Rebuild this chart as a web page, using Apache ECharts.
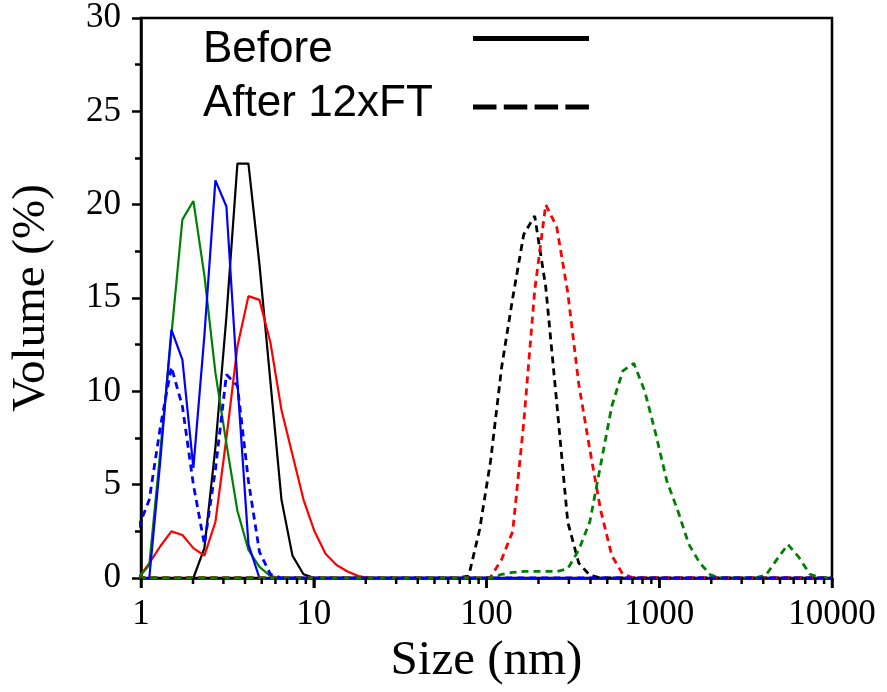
<!DOCTYPE html>
<html><head><meta charset="utf-8">
<script src="https://cdn.jsdelivr.net/npm/echarts@6/dist/echarts.min.js"></script>
<style>html,body{margin:0;padding:0;background:#fff}#c{width:887px;height:692px;background:#fff}</style>
</head><body><div id="c"></div>
<script>
// Size classes (nm)
const sizes = [0.9649, 1.117, 1.294, 1.499, 1.736, 2.010, 2.328, 2.696,
  3.122, 3.615, 4.187, 4.849, 5.615, 6.503, 7.531, 8.721,
  10.10, 11.70, 13.54, 15.69, 18.17, 21.04, 24.36, 28.21,
  32.67, 37.84, 43.82, 50.75, 58.77, 68.06, 78.82, 91.28,
  105.7, 122.4, 141.8, 164.2, 190.1, 220.2, 255.0, 295.3,
  342.0, 396.1, 458.7, 531.2, 615.1, 712.4, 825.0, 955.4,
  1106, 1281, 1484, 1718, 1990, 2305, 2669, 3091,
  3580, 4145, 4801, 5560, 6439, 7456, 8635, 10000];

// Before (solid)
const beforeBlack = [0, 0, 0, 0, 0, 0, 1.6, 7.0,
  14.0, 22.2, 22.2, 16.8, 10.5, 4.2, 1.2, 0.2,
  0, 0, 0, 0, 0, 0, 0, 0,
  0, 0, 0, 0, 0, 0, 0, 0,
  0, 0, 0, 0, 0, 0, 0, 0,
  0, 0, 0, 0, 0, 0, 0, 0,
  0, 0, 0, 0, 0, 0, 0, 0,
  0, 0, 0, 0, 0, 0, 0, 0];
const beforeRed = [0, 0.8, 1.7, 2.5, 2.3, 1.6, 1.2, 3.0,
  7.5, 12.4, 15.1, 14.9, 12.6, 9.0, 6.6, 4.2,
  2.5, 1.3, 0.7, 0.35, 0.1, 0, 0, 0,
  0, 0, 0, 0, 0, 0, 0, 0,
  0, 0, 0, 0, 0, 0, 0, 0,
  0, 0, 0, 0, 0, 0, 0, 0,
  0, 0, 0, 0, 0, 0, 0, 0,
  0, 0, 0, 0, 0, 0, 0, 0];
const beforeGreen = [0, 0.7, 6.8, 13.0, 19.2, 20.2, 16.2, 11.0,
  7.2, 3.6, 1.5, 0.6, 0.1, 0, 0, 0,
  0, 0, 0, 0, 0, 0, 0, 0,
  0, 0, 0, 0, 0, 0, 0, 0,
  0, 0, 0, 0, 0, 0, 0, 0,
  0, 0, 0, 0, 0, 0, 0, 0,
  0, 0, 0, 0, 0, 0, 0, 0,
  0, 0, 0, 0, 0, 0, 0, 0];
const beforeBlue = [0, 0, 6.3, 13.3, 11.7, 5.9, 13.0, 21.3,
  19.9, 10.5, 1.8, 0, 0, 0, 0, 0,
  0, 0, 0, 0, 0, 0, 0, 0,
  0, 0, 0, 0, 0, 0, 0, 0,
  0, 0, 0, 0, 0, 0, 0, 0,
  0, 0, 0, 0, 0, 0, 0, 0,
  0, 0, 0, 0, 0, 0, 0, 0,
  0, 0, 0, 0, 0, 0, 0, 0];

// After 12xFT (dashed)
const afterBlack = [0, 0, 0, 0, 0, 0, 0, 0,
  0, 0, 0, 0, 0, 0, 0, 0,
  0, 0, 0, 0, 0, 0, 0, 0,
  0, 0, 0, 0, 0, 0, 0.1, 2.6,
  6.3, 11.3, 15.0, 18.4, 19.4, 15.6, 9.4, 3.0,
  0.8, 0.15, 0, 0, 0, 0, 0, 0,
  0, 0, 0, 0, 0, 0, 0, 0,
  0, 0, 0, 0, 0, 0, 0, 0];
const afterRed = [0, 0, 0, 0, 0, 0, 0, 0,
  0, 0, 0, 0, 0, 0, 0, 0,
  0, 0, 0, 0, 0, 0, 0, 0,
  0, 0, 0, 0, 0, 0, 0, 0,
  0.05, 1.0, 2.5, 8.3, 15.4, 20.0, 18.8, 15.3,
  10.4, 6.9, 3.6, 1.2, 0.2, 0, 0, 0,
  0, 0, 0, 0, 0, 0, 0, 0,
  0, 0, 0, 0, 0, 0, 0, 0];
const afterGreen = [0, 0, 0, 0, 0, 0, 0, 0,
  0, 0, 0, 0, 0, 0, 0, 0,
  0, 0, 0, 0, 0, 0, 0, 0,
  0, 0, 0, 0, 0, 0, 0, 0,
  0, 0.2, 0.3, 0.35, 0.35, 0.35, 0.35, 0.5,
  1.5, 3.0, 6.1, 9.2, 11.1, 11.5, 10.0, 7.7,
  5.2, 3.6, 1.8, 0.8, 0.15, 0, 0, 0,
  0, 0.15, 1.0, 1.8, 1.1, 0.2, 0, 0];
const afterBlue = [2.7, 4.2, 8.1, 11.3, 9.2, 5.0, 1.8, 5.8,
  10.9, 10.3, 5.2, 1.4, 0.2, 0, 0, 0,
  0, 0, 0, 0, 0, 0, 0, 0,
  0, 0, 0, 0, 0, 0, 0, 0,
  0, 0, 0, 0, 0, 0, 0, 0,
  0, 0, 0, 0, 0, 0, 0, 0,
  0, 0, 0, 0, 0, 0, 0, 0,
  0, 0, 0, 0, 0, 0, 0, 0];

// Axis ticks (x axis, nm)
const majorTickValues = [1, 10, 100, 1000, 10000];
const minorTickValues = [2, 3, 4, 5, 6, 7, 8, 9,
  20, 30, 40, 50, 60, 70, 80, 90,
  200, 300, 400, 500, 600, 700, 800, 900,
  2000, 3000, 4000, 5000, 6000, 7000, 8000, 9000];

const legendNames = ['Before', 'After 12xFT'];

const SERIF = 'Liberation Serif, Times New Roman, serif';
const SANS = 'Liberation Sans, Arial, sans-serif';
const DASH = [7, 5];

function pairs(vals) { return sizes.map((s, i) => [s, vals[i]]); }
function mk(name, vals, color, dashed) {
  return {
    name: name, type: 'line', data: pairs(vals), xAxisIndex: 0, yAxisIndex: 0,
    showSymbol: false, symbol: 'none', smooth: false, silent: true,
    lineStyle: { color: color, width: dashed ? 2.8 : 2.2, type: dashed ? DASH : 'solid', cap: 'butt' },
    itemStyle: { color: color }
  };
}
// x-axis tick marks, placed on the log scale at y = 0 and hanging below the axis line
function tickMarks(name, values, len) {
  return {
    name: name, type: 'scatter', xAxisIndex: 0, yAxisIndex: 0, clip: false, silent: true, z: 3,
    data: values.map(function (v) { return [v, 0]; }),
    symbol: 'rect', symbolSize: [2.5, len], symbolOffset: [0, len / 2],
    itemStyle: { color: '#000', opacity: 1 },
    emphasis: { disabled: true }
  };
}

const chart = echarts.init(document.getElementById('c'), null, { renderer: 'canvas' });
chart.setOption({
  animation: false,
  grid: { left: 141, right: 55, top: 18, bottom: 114, show: true, borderColor: '#000', borderWidth: 2.5, backgroundColor: 'transparent' },
  legend: {
    orient: 'vertical', left: 203, top: 5.5, padding: 0, itemGap: 10.5, align: 'right',
    itemWidth: 116, itemHeight: 5, selectedMode: false,
    formatter: function (name) { return name === legendNames[0] ? '{b|' + name + '}' : '{a|' + name + '}'; },
    textStyle: {
      color: '#000', fontFamily: SANS, fontSize: 44,
      rich: {
        b: { width: 265, align: 'left', fontSize: 44, fontFamily: SANS, color: '#000', lineHeight: 44, padding: [22, 0, 0, 0] },
        a: { width: 265, align: 'left', fontSize: 44, fontFamily: SANS, color: '#000', lineHeight: 44, padding: [0, 0, 6, 0] }
      }
    },
    data: [
      { name: legendNames[0], itemStyle: { opacity: 0 }, lineStyle: { color: '#000', width: 5, type: 'solid' } },
      { name: legendNames[1], itemStyle: { opacity: 0 }, lineStyle: { color: '#000', width: 5, type: [23.5, 7.3] } }
    ]
  },
  xAxis: {
    type: 'log', logBase: 10, min: 1, max: 10000,
    name: 'Size (nm)', nameLocation: 'middle', nameGap: 49,
    nameTextStyle: { fontFamily: SERIF, fontSize: 49, color: '#000' },
    axisLine: { show: true, onZero: false, lineStyle: { color: '#000', width: 2.5 } },
    axisTick: { show: true, inside: false, length: 10, lineStyle: { color: '#000', width: 2.5 } },
    axisLabel: {
      show: true, margin: 19, fontFamily: SERIF, fontSize: 35, color: '#000',
      formatter: function (v) { return String(Math.round(v)); }
    },
    splitLine: { show: false }, minorTick: { show: false }
  },
  yAxis: {
    type: 'value', min: 0, max: 30, interval: 5,
    name: 'Volume (%)', nameLocation: 'middle', nameGap: 86,
    nameTextStyle: { fontFamily: SERIF, fontSize: 47, color: '#000' },
    axisLine: { show: true, onZero: false, lineStyle: { color: '#000', width: 2.5 } },
    axisTick: { show: true, inside: false, length: 9, lineStyle: { color: '#000', width: 2.5 } },
    minorTick: { show: true, splitNumber: 2, length: 6, lineStyle: { color: '#000', width: 2.5 } },
    axisLabel: { margin: 20, fontFamily: SERIF, fontSize: 35, color: '#000' },
    splitLine: { show: false }, minorSplitLine: { show: false }
  },
  series: [
    mk(legendNames[0], beforeBlack, '#000000', false),
    mk('Before red', beforeRed, '#ff0000', false),
    mk('Before green', beforeGreen, '#008000', false),
    mk('Before blue', beforeBlue, '#0000ff', false),
    mk(legendNames[1], afterBlack, '#000000', true),
    mk('After red', afterRed, '#ff0000', true),
    mk('After green', afterGreen, '#008000', true),
    mk('After blue', afterBlue, '#0000ff', true),
    tickMarks('x major ticks', majorTickValues, 10),
    tickMarks('x minor ticks', minorTickValues, 6)
  ]
});
</script>
</body></html>
